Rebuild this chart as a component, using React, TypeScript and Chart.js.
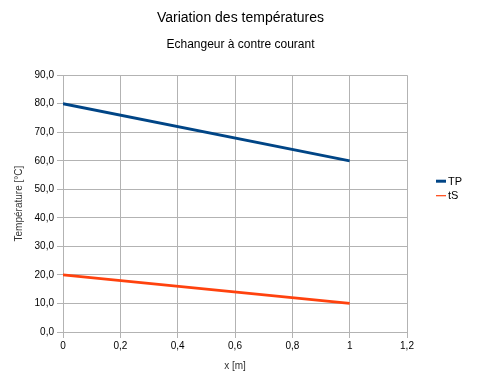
import React, { useEffect, useRef } from "react";
import { Chart, registerables } from "chart.js";

Chart.register(...registerables);

const xValues = [0, 1];
const tpValues = [80, 60];
const tsValues = [20, 10];
const seriesLabels = ["TP", "tS"];
const seriesColors = ["#004586", "#ff420e"];
const titleText = "Variation des températures";
const subtitleText = "Echangeur à contre courant";
const xTitle = "x [m]";
const yTitle = "Température [°C]";

const FONT = "'Liberation Sans', Arial, sans-serif";

const legendPlugin = {
  id: "customLegend",
  afterDraw(chart: any) {
    const ctx = chart.ctx;
    const area = chart.chartArea;
    const x0 = area.right + 29;
    const yStart = area.top + 106;
    ctx.save();
    ctx.font = `11px ${FONT}`;
    ctx.textBaseline = "middle";
    ctx.textAlign = "left";
    chart.data.datasets.forEach((ds: any, i: number) => {
      const y = yStart + i * 14.5;
      ctx.strokeStyle = ds.borderColor;
      ctx.lineWidth = i === 0 ? 3 : 1.2;
      ctx.beginPath();
      ctx.moveTo(x0, y);
      ctx.lineTo(x0 + 10, y);
      ctx.stroke();
      ctx.fillStyle = "#000";
      ctx.fillText(ds.label, x0 + 12, y + 0.5);
    });
    ctx.restore();
  },
};

const fmtComma = (v: number, digits?: number) => {
  const r = Math.round(v * 10) / 10;
  const s = digits !== undefined ? r.toFixed(digits) : String(r);
  return s.replace(".", ",");
};

export default function App() {
  const ref = useRef<HTMLCanvasElement | null>(null);
  useEffect(() => {
    document.body.style.margin = "0";
    if (!ref.current) return;
    const chart = new Chart(ref.current, {
      type: "line",
      data: {
        datasets: [
          {
            label: seriesLabels[0],
            data: xValues.map((x, i) => ({ x, y: tpValues[i] })),
            borderColor: seriesColors[0],
            backgroundColor: seriesColors[0],
            borderWidth: 2.8,
            pointRadius: 0,
            tension: 0,
          },
          {
            label: seriesLabels[1],
            data: xValues.map((x, i) => ({ x, y: tsValues[i] })),
            borderColor: seriesColors[1],
            backgroundColor: seriesColors[1],
            borderWidth: 2.8,
            pointRadius: 0,
            tension: 0,
          },
        ],
      },
      options: {
        animation: false,
        responsive: false,
        layout: { padding: 0 },
        plugins: {
          legend: { display: false },
          tooltip: { enabled: false },
          title: {
            display: true,
            text: titleText,
            color: "#000",
            font: { family: FONT, size: 14, weight: "normal" },
            padding: { top: 10, bottom: 11 },
          },
          subtitle: {
            display: true,
            text: subtitleText,
            color: "#000",
            font: { family: FONT, size: 12, weight: "normal" },
            padding: { top: 0, bottom: 23 },
          },
        },
        scales: {
          x: {
            type: "linear",
            min: 0,
            max: 1.2,
            ticks: {
              stepSize: 0.2,
              color: "#000",
              font: { family: FONT, size: 10 },
              padding: 2,
              callback: (v: any) => fmtComma(Number(v)),
            },
            grid: { color: "#b3b3b3", tickLength: 6, lineWidth: 1 },
            border: { color: "#b3b3b3" },
            title: {
              display: true,
              text: xTitle,
              color: "#333",
              font: { family: FONT, size: 10 },
              padding: { top: 0, bottom: 14 },
            },
            afterFit: (s: any) => {
              s.height = 54;
            },
          },
          y: {
            type: "linear",
            min: 0,
            max: 90,
            ticks: {
              stepSize: 10,
              color: "#000",
              font: { family: FONT, size: 10 },
              padding: 3,
              callback: (v: any) => fmtComma(Number(v), 1),
            },
            grid: { color: "#b3b3b3", tickLength: 6, lineWidth: 1 },
            border: { color: "#b3b3b3" },
            title: {
              display: true,
              text: yTitle,
              color: "#333",
              font: { family: FONT, size: 10 },
              padding: { top: 13, bottom: 0 },
            },
            afterFit: (s: any) => {
              s.width = 63;
            },
          },
          legendSpace: {
            type: "linear",
            position: "right",
            display: true,
            grid: { display: false, drawTicks: false },
            border: { display: false },
            ticks: { display: false },
            afterFit: (s: any) => {
              s.width = 74;
            },
          },
        },
      },
      plugins: [legendPlugin],
    } as any);
    return () => chart.destroy();
  }, []);
  return <canvas ref={ref} width={481} height={386} style={{ display: "block" }} />;
}
